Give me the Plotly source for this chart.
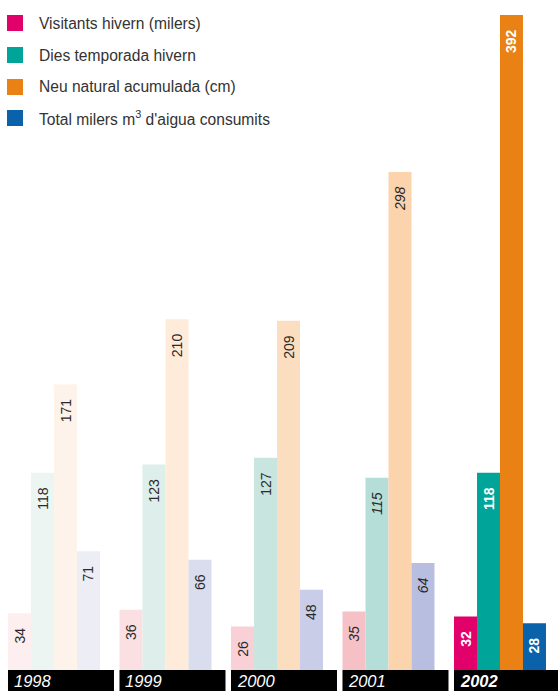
import plotly.graph_objects as go

years = ["1998", "1999", "2000", "2001", "2002"]
series_names = [
    "Visitants hivern (milers)",
    "Dies temporada hivern",
    "Neu natural acumulada (cm)",
    "Total milers m<sup>3</sup> d'aigua consumits",
]
visitants = [34, 36, 26, 35, 32]
dies = [118, 123, 127, 115, 118]
neu = [171, 210, 209, 298, 392]
aigua = [71, 66, 48, 64, 28]
series_values = [visitants, dies, neu, aigua]

# colour ramps per series (1998 lightest -> 2002 full)
palettes = [
    ["#FDEEF0", "#FBE0E3", "#F8D0D5", "#F6C0C7", "#E2006B"],
    ["#EDF5F2", "#DEEEEA", "#C9E5E0", "#B6DED9", "#00A499"],
    ["#FEF3EA", "#FEEBDA", "#FBDDBF", "#FBD3AC", "#E98115"],
    ["#EDEDF6", "#DADDEE", "#C9CDE7", "#B8BEDF", "#0A62AA"],
]
legend_colors = ["#E2006B", "#00A499", "#E98115", "#0A62AA"]

FONT = "Liberation Sans, Arial, sans-serif"
PAD = "\u00a0\u00a0\u00a0"


def fmt(v, i):
    s = str(v)
    if i == 3:
        s = "<i>" + s + "</i>"
    elif i == 4:
        s = "<b>" + s + "</b>"
    return s + PAD


xs = list(range(len(years)))
fig = go.Figure()
for k, vals in enumerate(series_values):
    fig.add_trace(go.Bar(
        x=xs, y=vals,
        marker=dict(color=palettes[k], line=dict(width=0)),
        text=[fmt(v, i) for i, v in enumerate(vals)],
        textposition="inside",
        insidetextanchor="end",
        textangle=-90,
        textfont=dict(family=FONT, size=14,
                      color=["#2a2a2a"] * 4 + ["#ffffff"]),
        constraintext="none",
        hoverinfo="skip",
        showlegend=False,
    ))

shapes = []
annotations = []
for i, yr in enumerate(years):
    shapes.append(dict(type="rect", xref="x", yref="y",
                       x0=i - 0.4126, x1=i + 0.538, y0=-13, y1=0,
                       fillcolor="#000000", line=dict(width=0), layer="above"))
    label = "<i>%s</i>" % yr if i < 4 else "<b><i>%s</i></b>" % yr
    annotations.append(dict(x=i - 0.4126 + 0.035, y=-6.3, xref="x", yref="y",
                            text=label, showarrow=False, xanchor="left",
                            yanchor="middle",
                            font=dict(family=FONT, size=16.5, color="#ffffff")))

# legend drawn as squares + text
leg_y = [23, 55, 87, 118]
for k, name in enumerate(series_names):
    py = 1 - leg_y[k] / 691
    shapes.append(dict(type="rect", xref="paper", yref="paper",
                       x0=7 / 558, x1=23 / 558,
                       y0=py - 8 / 691, y1=py + 8 / 691,
                       fillcolor=legend_colors[k], line=dict(width=0)))
    annotations.append(dict(x=37 / 558, y=py, xref="paper", yref="paper",
                            text=name, showarrow=False, xanchor="left",
                            yanchor="middle",
                            font=dict(family=FONT, size=15.6, color="#333333")))

fig.update_layout(
    width=558, height=691,
    margin=dict(l=0, r=0, t=0, b=0),
    paper_bgcolor="#ffffff", plot_bgcolor="#ffffff",
    barmode="group", bargap=0.175, bargroupgap=0,
    xaxis=dict(range=[-0.4843, 4.5202], visible=False, showgrid=False,
               zeroline=False),
    yaxis=dict(range=[-12.57, 401], visible=False, showgrid=False,
               zeroline=False),
    shapes=shapes, annotations=annotations,
)

fig.write_html("out.html",
               config={"displayModeBar": False},
               post_script="document.body.style.margin='0';"
                           "document.body.style.overflow='hidden';")
